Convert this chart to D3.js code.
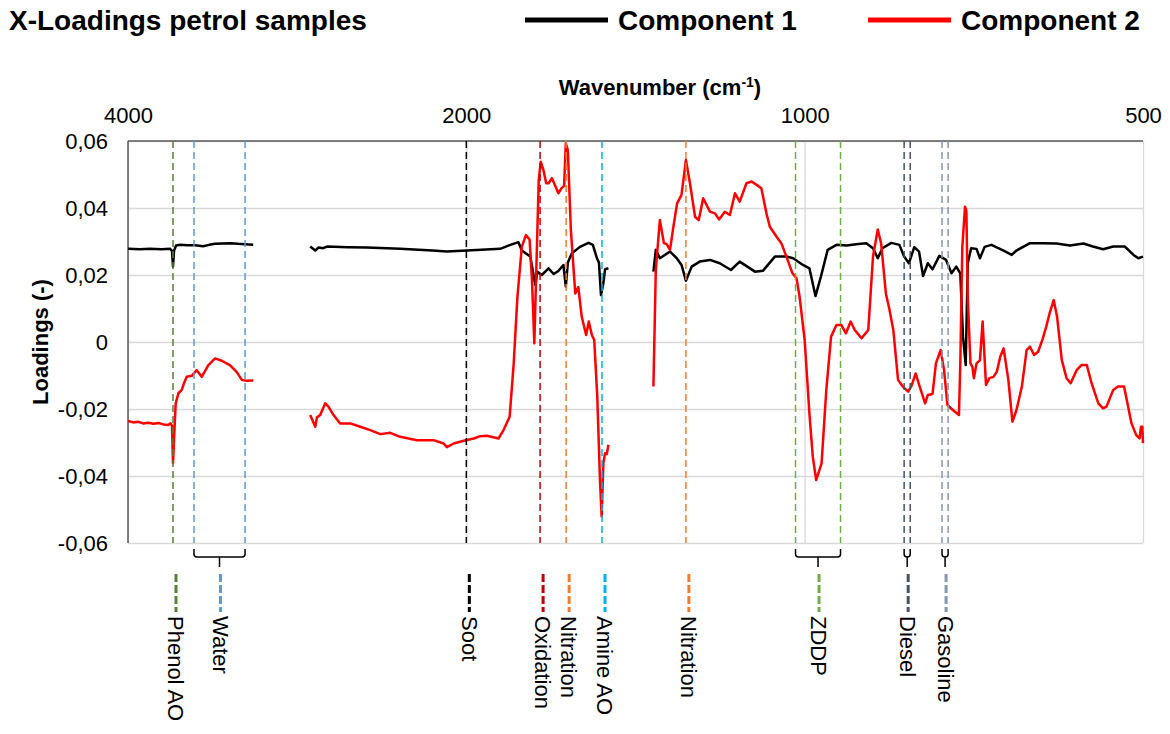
<html>
  <head>
    <meta charset="utf-8">
    <script src="https://cdn.jsdelivr.net/npm/d3@7"></script>
    <title>X-Loadings petrol samples</title>
    <style>
      body {
        margin: 0px;
        background: #fff;
      }
      text {
        font-family: Arial, "Liberation Sans", sans-serif;
        fill: #000;
      }
      .grid line {
        stroke: #d9d9d9;
        stroke-width: 1.3px;
      }
      .grid .domain {
        display: none;
      }
      .axis .domain {
        display: none;
      }
      .axis .tick text {
        font-size: 22px;
      }
      .band-label {
        font-size: 22px;
      }
    </style>
  </head>
  <body>
    <svg width="1170" height="734"></svg>
    <script>
      // wavenumber ticks (cm-1), the axis is broken at 2000 and 1000
      var xTicks = [4000, 2000, 1000, 500];
      var yTicks = [-0.06, -0.04, -0.02, 0, 0.02, 0.04, 0.06];

      // Component 1 (black), null = gap in spectrum
      var comp1Wn = [4000, 3930, 3870, 3800, 3751, 3740, 3734, 3728, 3716, 3692, 3650, 3604, 3556, 3520, 3485, 3440, 3396, 3350, 3308, 3260,
        3000,
        2923, 2893, 2874, 2846, 2824, 2700, 2588, 2391, 2200, 2115, 1998, 1900, 1870, 1846, 1836, 1811, 1796, 1790, 1777, 1757, 1742, 1728, 1713, 1706, 1700, 1688, 1664, 1639, 1626, 1614, 1608, 1602, 1595, 1590, 1580,
        1500,
        1447, 1440, 1428, 1398, 1378, 1364, 1351, 1334, 1310, 1280, 1251, 1218, 1192, 1147, 1123, 1088, 1054, 1034, 1005, 993, 984, 976, 966, 953, 938, 924, 909, 899, 892, 885, 872, 860, 853, 846, 838, 831, 825, 818, 811, 801, 791, 783, 776, 770, 766, 762, 759, 754, 746, 741, 734, 724, 706, 694, 687, 667, 648, 628, 608, 588, 574, 559, 544, 527, 514, 507, 500];
      var comp1 = [0.0278, 0.0277, 0.0278, 0.0277, 0.0278, 0.0272, 0.0225, 0.0272, 0.0288, 0.0290, 0.0289, 0.0289, 0.0286, 0.0290, 0.0293, 0.0294, 0.0295, 0.0293, 0.0292, 0.0290,
        null,
        0.0285, 0.0273, 0.0282, 0.0280, 0.0285, 0.0283, 0.0282, 0.0278, 0.0273, 0.0270, 0.0273, 0.0278, 0.0290, 0.0298, 0.0273, 0.0255, 0.0170, 0.0210, 0.0200, 0.0220, 0.0203, 0.0212, 0.0230, 0.0165, 0.0237, 0.0265, 0.0284, 0.0296, 0.0290, 0.0250, 0.0237, 0.0140, 0.0175, 0.0217, 0.0220,
        null,
        0.0210, 0.0275, 0.0250, 0.0270, 0.0250, 0.0230, 0.0183, 0.0225, 0.0240, 0.0245, 0.0235, 0.0215, 0.0240, 0.0210, 0.0213, 0.0255, 0.0255, 0.0250, 0.0230, 0.0220, 0.0137, 0.0195, 0.0275, 0.0290, 0.0288, 0.0292, 0.0295, 0.0280, 0.0250, 0.0280, 0.0296, 0.0290, 0.0255, 0.0235, 0.0283, 0.0270, 0.0197, 0.0235, 0.0217, 0.0257, 0.0245, 0.0205, 0.0225, 0.0205, 0.0016, -0.0069, 0.0235, 0.0280, 0.0278, 0.0250, 0.0284, 0.0290, 0.0273, 0.0260, 0.0273, 0.0295, 0.0295, 0.0294, 0.0288, 0.0294, 0.0285, 0.0277, 0.0285, 0.0285, 0.0260, 0.0250, 0.0255];

      // Component 2 (red)
      var comp2Wn = [4000, 3970, 3940, 3910, 3880, 3850, 3820, 3790, 3763, 3748, 3740, 3734, 3728, 3718, 3702, 3682, 3669, 3653, 3623, 3594, 3564, 3525, 3485, 3446, 3396, 3357, 3327, 3300, 3259,
        3000,
        2923, 2893, 2883, 2864, 2834, 2815, 2785, 2746, 2686, 2627, 2568, 2509, 2450, 2391, 2292, 2194, 2134, 2115, 2075, 2016, 1978, 1959, 1939, 1905, 1890, 1872, 1860, 1849, 1836, 1824, 1813, 1806, 1799, 1794, 1786, 1780, 1772, 1764, 1757, 1747, 1737, 1728, 1718, 1711, 1706, 1700, 1691, 1678, 1669, 1659, 1646, 1638, 1629, 1622, 1613, 1605, 1600, 1595, 1590, 1585, 1580,
        1500,
        1447, 1440, 1428, 1416, 1408, 1398, 1388, 1377, 1364, 1351, 1339, 1324, 1313, 1300, 1280, 1265, 1253, 1236, 1221, 1206, 1192, 1172, 1157, 1142, 1128, 1113, 1103, 1083, 1069, 1054, 1036, 1024, 1015, 1000, 993, 988, 983, 975, 968, 961, 953, 946, 939, 932, 926, 916, 906, 899, 892, 887, 880, 875, 869, 862, 855, 847, 842, 836, 830, 822, 818, 811, 806, 799, 794, 789, 781, 772, 770, 767, 763, 761, 759, 755, 752, 750, 746, 741, 737, 732, 727, 721, 716, 711, 706, 699, 693, 687, 679, 672, 667, 661, 655, 648, 643, 638, 632, 627, 620, 613, 607, 598, 591, 583, 576, 566, 559, 554, 544, 537, 528, 525, 517, 510, 505, 503, 501, 500];
      var comp2 = [-0.0236, -0.0240, -0.0238, -0.0243, -0.0241, -0.0244, -0.0242, -0.0246, -0.0248, -0.0243, -0.0250, -0.0362, -0.0290, -0.0183, -0.0153, -0.0143, -0.0123, -0.0104, -0.0101, -0.0084, -0.0104, -0.0069, -0.0049, -0.0056, -0.0070, -0.0090, -0.0113, -0.0116, -0.0115,
        null,
        -0.0218, -0.0253, -0.0225, -0.0218, -0.0183, -0.0193, -0.0218, -0.0243, -0.0243, -0.0253, -0.0263, -0.0275, -0.0271, -0.0283, -0.0293, -0.0293, -0.0303, -0.0314, -0.0303, -0.0295, -0.0288, -0.0281, -0.0280, -0.0288, -0.0263, -0.0223, -0.0064, 0.0135, 0.0284, 0.0319, 0.0306, 0.0185, -0.0004, 0.0185, 0.0484, 0.0538, 0.0513, 0.0474, 0.0474, 0.0489, 0.0466, 0.0444, 0.0460, 0.0466, 0.0593, 0.0573, 0.0334, 0.0145, 0.0164, 0.0076, 0.0021, 0.0061, 0.0021, 0.0006, -0.0163, -0.0412, -0.0521, -0.0362, -0.0332, -0.0335, -0.0307,
        null,
        -0.0133, 0.0215, 0.0364, 0.0295, 0.0292, 0.0275, 0.0344, 0.0414, 0.0439, 0.0543, 0.0474, 0.0374, 0.0364, 0.0429, 0.0389, 0.0384, 0.0366, 0.0389, 0.0379, 0.0444, 0.0419, 0.0474, 0.0479, 0.0469, 0.0459, 0.0384, 0.0344, 0.0314, 0.0295, 0.0255, 0.0205, 0.0190, 0.0135, 0.0006, -0.0213, -0.0342, -0.0412, -0.0362, -0.0143, 0.0016, 0.0051, 0.0051, 0.0026, 0.0061, 0.0036, 0.0011, 0.0036, 0.0255, 0.0336, 0.0295, 0.0145, 0.0100, 0.0036, -0.0113, -0.0133, -0.0148, -0.0130, -0.0094, -0.0133, -0.0183, -0.0158, -0.0155, -0.0064, -0.0024, -0.0084, -0.0188, -0.0203, -0.0218, -0.0064, 0.0284, 0.0404, 0.0390, 0.0135, -0.0064, -0.0075, -0.0108, -0.0064, -0.0055, 0.0061, -0.0128, -0.0108, -0.0104, -0.0089, -0.0044, -0.0019, -0.0113, -0.0238, -0.0203, -0.0133, -0.0024, -0.0014, -0.0039, -0.0029, 0.0011, 0.0046, 0.0086, 0.0125, 0.0076, -0.0054, -0.0108, -0.0123, -0.0084, -0.0069, -0.0069, -0.0123, -0.0183, -0.0198, -0.0193, -0.0143, -0.0133, -0.0133, -0.0163, -0.0243, -0.0278, -0.0288, -0.0253, -0.0253, -0.0302];

      // assignment bands and the marker lines belonging to them (cm-1)
      var bandNames = ['Phenol AO', 'Water', 'Soot', 'Oxidation', 'Nitration', 'Amine AO', 'Nitration', 'ZDDP', 'Diesel', 'Gasoline'];
      var bandLines = [[3734], [3610, 3308], [2000], [1782], [1705], [1599], [1351], [1027, 947], [853, 844], [797, 788]];

      var bandColors = ['#548235', '#5b9bd5', '#000000', '#c00000', '#ed7d31', '#00b0f0', '#ed7d31', '#70ad47', '#44546a', '#8497b0'];

      var svg = d3.select('svg');
      var pLeft = 128, pRight = 1143, pTop = 141, pBottom = 543;

      var x = d3.scaleLinear()
        .domain(xTicks)
        .range([pLeft, pLeft + (pRight - pLeft) / 3, pLeft + 2 * (pRight - pLeft) / 3, pRight]);
      var y = d3.scaleLinear()
        .domain([-0.06, 0.06])
        .range([pBottom, pTop]);

      var locale = d3.formatLocale({ decimal: ',', thousands: '.', grouping: [3], currency: ['', ''], minus: '-' });
      var yFmt = locale.format('.2f');

      // grid
      svg.append('g')
        .attr('class', 'grid')
        .attr('transform', `translate(${pLeft},0)`)
        .call(d3.axisLeft(y).tickValues(yTicks).tickSize(-(pRight - pLeft)).tickFormat(''));
      svg.append('g')
        .attr('class', 'grid')
        .attr('transform', `translate(0,${pTop})`)
        .call(d3.axisTop(x).tickValues(xTicks).tickSize(-(pBottom - pTop)).tickFormat(''));

      // axis lines
      svg.append('line')
        .attr('x1', pLeft).attr('x2', pRight).attr('y1', pTop).attr('y2', pTop)
        .attr('stroke', '#595959').attr('stroke-width', 1.5);
      svg.append('line')
        .attr('x1', pLeft).attr('x2', pLeft).attr('y1', pTop).attr('y2', pBottom)
        .attr('stroke', '#595959').attr('stroke-width', 1.5);

      // tick labels
      svg.append('g')
        .attr('class', 'axis')
        .attr('transform', `translate(${pLeft},0)`)
        .call(d3.axisLeft(y).tickValues(yTicks).tickSize(0).tickPadding(20)
          .tickFormat(function (d) { return d === 0 ? '0' : yFmt(d); }));
      svg.append('g')
        .attr('class', 'axis')
        .attr('transform', `translate(0,${pTop})`)
        .call(d3.axisTop(x).tickValues(xTicks).tickSize(0).tickPadding(18).tickFormat(d3.format('d')));

      // axis titles
      var xt = svg.append('text')
        .attr('x', 660).attr('y', 95)
        .attr('text-anchor', 'middle')
        .style('font-size', '22px').style('font-weight', 'bold');
      xt.append('tspan').text('Wavenumber (cm');
      xt.append('tspan').attr('dy', -8).style('font-size', '14px').text('-1');
      xt.append('tspan').attr('dy', 8).text(')');

      svg.append('text')
        .attr('transform', `translate(48,${y(0)}) rotate(-90)`)
        .attr('text-anchor', 'middle')
        .style('font-size', '22px').style('font-weight', 'bold')
        .text('Loadings (-)');

      // spectra
      function toPoints(wn, vals) {
        return wn.map(function (w, i) { return { w: w, v: vals[i] }; });
      }
      var line = d3.line()
        .defined(function (d) { return d.v !== null; })
        .x(function (d) { return x(d.w); })
        .y(function (d) { return y(d.v); });

      svg.append('path')
        .datum(toPoints(comp1Wn, comp1))
        .attr('fill', 'none').attr('stroke', '#000').attr('stroke-width', 2.5)
        .attr('stroke-linejoin', 'round')
        .attr('d', line);
      svg.append('path')
        .datum(toPoints(comp2Wn, comp2))
        .attr('fill', 'none').attr('stroke', '#ff0000').attr('stroke-width', 2.5)
        .attr('stroke-linejoin', 'round')
        .attr('d', line);

      // marker lines, brackets and labels
      var bands = svg.append('g').selectAll('g')
        .data(bandNames)
        .join('g');

      bands.each(function (name, i) {
        var g = d3.select(this);
        var xs = bandLines[i].map(function (w) { return x(w); });
        var col = bandColors[i];
        xs.forEach(function (px) {
          g.append('line')
            .attr('x1', px).attr('x2', px).attr('y1', pTop).attr('y2', pBottom)
            .attr('stroke', col).attr('stroke-width', 1.5)
            .attr('stroke-dasharray', '7,4');
        });
        var cx = d3.mean(xs);
        if (xs.length > 1) {
          var x0 = d3.min(xs), x1 = d3.max(xs);
          g.append('path')
            .attr('d', `M${x0},549 L${x0},554 Q${x0},557 ${x0 + 3},557 L${x1 - 3},557 Q${x1},557 ${x1},554 L${x1},549 M${cx},557 L${cx},567`)
            .attr('fill', 'none').attr('stroke', '#000').attr('stroke-width', 1.5);
        }
        var lx = cx + (xs.length > 1 ? 1 : 3);
        g.append('line')
          .attr('x1', lx).attr('x2', lx).attr('y1', 574).attr('y2', 612)
          .attr('stroke', col).attr('stroke-width', 3)
          .attr('stroke-dasharray', '8,3');
        g.append('text')
          .attr('class', 'band-label')
          .attr('transform', `translate(${lx},616) rotate(90)`)
          .attr('dy', '0.35em')
          .text(name);
      });

      // title and legend
      svg.append('text')
        .attr('x', 9).attr('y', 30)
        .style('font-size', '28px').style('font-weight', 'bold')
        .text('X-Loadings petrol samples');

      var legend = [['Component 1', '#000', 525], ['Component 2', '#ff0000', 868]];
      legend.forEach(function (d) {
        svg.append('line')
          .attr('x1', d[2]).attr('x2', d[2] + 83).attr('y1', 20).attr('y2', 20)
          .attr('stroke', d[1]).attr('stroke-width', 5);
        svg.append('text')
          .attr('x', d[2] + 93).attr('y', 30)
          .style('font-size', '28px').style('font-weight', 'bold')
          .text(d[0]);
      });
    </script>
  </body>
</html>
